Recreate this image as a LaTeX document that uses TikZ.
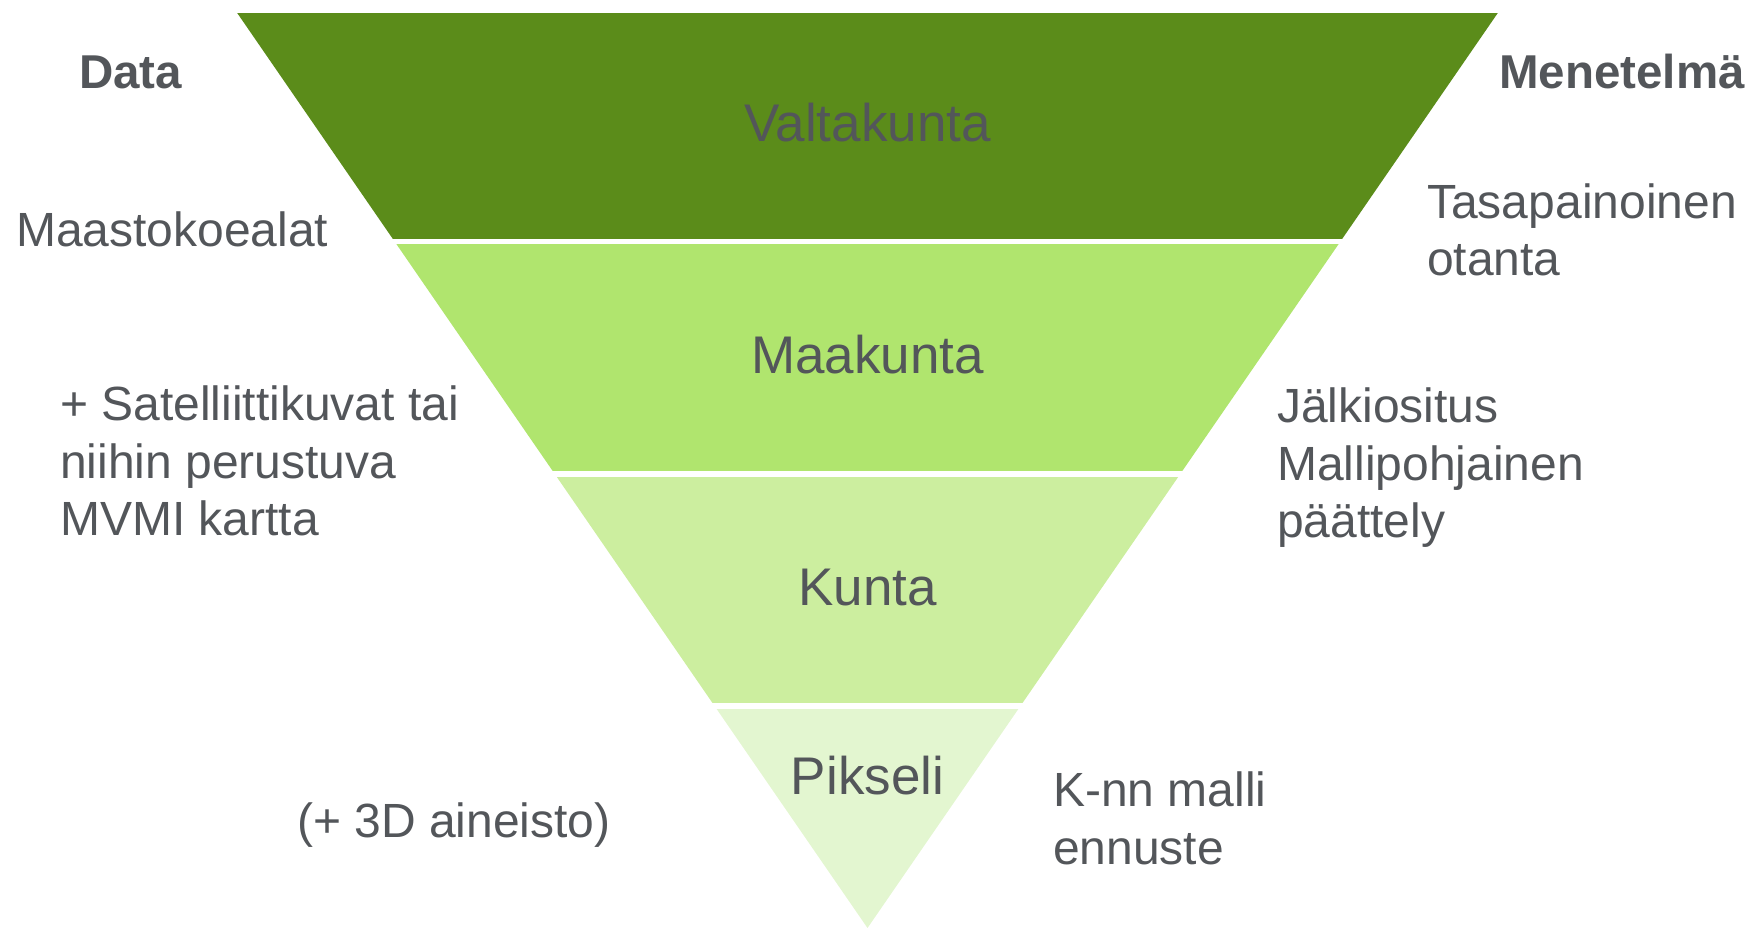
\documentclass[tikz,border=0pt]{standalone}
\usepackage{fontspec}
\setmainfont{Liberation Sans}
\usetikzlibrary{positioning}

\definecolor{levelA}{RGB}{91,140,26}
\definecolor{levelB}{RGB}{176,229,110}
\definecolor{levelC}{RGB}{204,238,159}
\definecolor{levelD}{RGB}{227,246,208}
\definecolor{txtgray}{RGB}{83,86,90}

\begin{document}
\begin{tikzpicture}[x=1pt, y=-1pt,
  level/.style={anchor=base, inner sep=0pt, text=txtgray,
    font=\fontsize{53}{60}\selectfont},
  side/.style={anchor=base west, inner sep=0pt, text=txtgray, align=left,
    font=\fontsize{48}{57.5}\selectfont},
  head/.style={side, font=\fontsize{47.5}{57.5}\selectfont\bfseries}]
  \useasboundingbox (0,0) rectangle (1749,928);

  % the funnel
  \begin{scope}
    \clip (237,12.7) -- (1498,12.7) -- (867.5,928) -- cycle;
    \fill[levelA] (0,12.7) rectangle (1749,239);
    \fill[levelB] (0,244.5) rectangle (1749,471);
    \fill[levelC] (0,476.5) rectangle (1749,703);
    \fill[levelD] (0,708.5) rectangle (1749,930);
  \end{scope}

  \node[level] (valtakunta) at (867.5,141.7) {Valtakunta};
  \node[level] (maakunta) at (867.5,373) {Maakunta};
  \node[level] (kunta) at (867.5,605) {Kunta};
  \node[level] (pikseli) at (867.5,794) {Pikseli};

  % left column (multi-line nodes sit on their last line)
  \node[head] (data) at (79,89) {Data};
  \node[side] (koealat) at (16,247) {Maastokoealat};
  \node[side] (satelliitti) at (60,535.5) {+ Satelliittikuvat tai\\niihin perustuva\\MVMI kartta};
  \node[side] (kolmed) at (297,837) {(+ 3D aineisto)};

  % right column
  \node[head] (menetelma) at (1499,89) {Menetelmä};
  \node[side] (otanta) at (1427,276) {Tasapainoinen\\otanta};
  \node[side] (jalkiositus) at (1277,537.5) {Jälkiositus\\Mallipohjainen\\päättely};
  \node[side] (knn) at (1053,864) {K-nn malli\\ennuste};
\end{tikzpicture}
\end{document}
